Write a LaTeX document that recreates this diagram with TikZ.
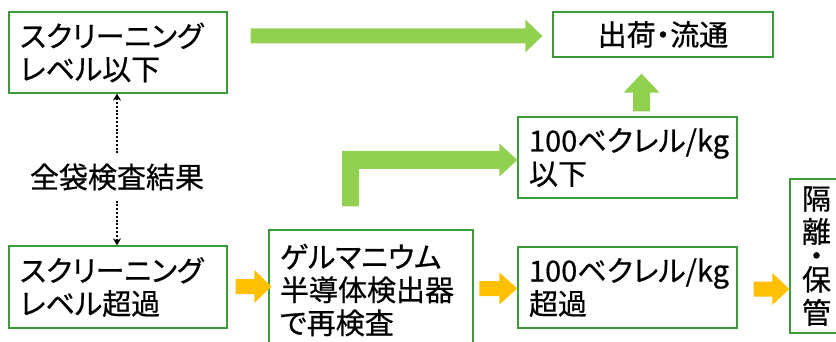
\documentclass[tikz,border=0pt]{standalone}
\usepackage{fontspec}
\setmainfont{Noto Sans CJK JP}[RawFeature=+palt, FakeBold=0.6]
\usetikzlibrary{calc,arrows.meta}
\definecolor{boxgreen}{RGB}{58,155,58}
\definecolor{argreen}{RGB}{146,208,80}
\definecolor{arorange}{RGB}{255,192,0}
\newcommand\jpfont{\fontsize{29pt}{33pt}\selectfont}
\begin{document}
\begin{tikzpicture}[x=1pt,y=-1pt,
  box/.style={draw=boxgreen, line width=1.3pt, fill=white, inner xsep=10pt, inner ysep=0pt, align=left, font=\jpfont, text=black},
  dotarrow/.style={line width=2pt, dash pattern=on 2pt off 1.8pt, -{Stealth[length=7pt,width=8pt]}, black}
]
\useasboundingbox (0,0) rectangle (836,342);
\clip (0,0) rectangle (836,342);
\fill[white] (0,0) rectangle (836,342);

\node[box, minimum width=218pt, minimum height=81pt, text width=196pt] (A) at (118,52.5) {スクリーニング\\レベル以下};
\node[box, minimum width=218pt, minimum height=82pt, text width=196pt] (B) at (118,287) {スクリーニング\\レベル超過};
\node[box, minimum width=204pt, minimum height=120pt, text width=182pt] (C) at (371,290) {ゲルマニウム\\半導体検出器\\で再検査};
\node[box, minimum width=219pt, minimum height=81pt, text width=197pt] (D) at (627.5,157.5) {100ベクレル/kg\\以下};
\node[box, minimum width=219pt, minimum height=81pt, text width=197pt] (E) at (627.5,287.5) {100ベクレル/kg\\超過};
\node[box, minimum width=220pt, minimum height=45pt, align=center] (F) at (663,34.5) {出荷・流通};
\node[box, minimum width=53pt, minimum height=154pt, inner xsep=0pt, align=center] (G) at (816.5,256) {隔\\離\\[-9pt]・\\[-9pt]保\\管};

\node[font=\jpfont, inner xsep=0pt, inner ysep=10pt, text=black] (L) at (117,177) {全袋検査結果};
\draw[dotarrow] (L.north) -- (L.north|-A.south);
\draw[dotarrow] (L.south) -- (L.south|-B.north);

\coordinate (g1) at ($(A.east|-F.west)+(23,1.5)$);
\coordinate (g2) at ($(F.west)+(-10,1.5)$);
\coordinate (u1) at ($(D.north)+(14,-5)$);
\coordinate (u2) at ($(u1|-F.south)+(0,16)$);
\coordinate (e1) at ($(C.north)+(-20.5,-23)$);
\coordinate (e2) at ($(D.west)+(0,2.5)$);
\coordinate (o1) at ($(B.east)+(8,-0.5)$);
\coordinate (o2) at ($(o1-|C.west)+(3,0)$);
\coordinate (o3) at ($(E.west)+(-38,1)$);
\coordinate (o4) at ($(E.west)+(0,1)$);
\coordinate (o5) at ($(E.east)+(16,1.5)$);
\coordinate (o6) at (o5-|G.west);

% green right arrow A -> F
\fill[argreen] let \p1=(g1), \p2=(g2) in
  (\x1,\y2+7.5pt) -- (\x2-17pt,\y2+7.5pt) -- (\x2-17pt,\y2+16.5pt) -- (\x2,\y2)
  -- (\x2-17pt,\y2-16.5pt) -- (\x2-17pt,\y2-7.5pt) -- (\x1,\y2-7.5pt) -- cycle;
% green up arrow D -> F
\fill[argreen] let \p1=(u1), \p2=(u2) in
  (\x2-8.5pt,\y1) -- (\x2-8.5pt,\y2-19pt) -- (\x2-18pt,\y2-19pt) -- (\x2,\y2)
  -- (\x2+18pt,\y2-19pt) -- (\x2+8.5pt,\y2-19pt) -- (\x2+8.5pt,\y1) -- cycle;
% green elbow arrow C -> D
\fill[argreen] let \p1=(e1), \p2=(e2) in
  (\x1-8.5pt,\y1) -- (\x1-8.5pt,\y2+9pt) -- (\x2-18pt,\y2+9pt) -- (\x2-18pt,\y2+16.5pt)
  -- (\x2,\y2) -- (\x2-18pt,\y2-16.5pt) -- (\x2-18pt,\y2-9pt) -- (\x1+8.5pt,\y2-9pt)
  -- (\x1+8.5pt,\y1) -- cycle;
% orange arrows
\fill[arorange] let \p1=(o1), \p2=(o2) in
  (\x1,\y2+7.5pt) -- (\x2-17pt,\y2+7.5pt) -- (\x2-17pt,\y2+16.5pt) -- (\x2,\y2)
  -- (\x2-17pt,\y2-16.5pt) -- (\x2-17pt,\y2-7.5pt) -- (\x1,\y2-7.5pt) -- cycle;
\fill[arorange] let \p1=(o3), \p2=(o4) in
  (\x1,\y2+7.5pt) -- (\x2-18pt,\y2+7.5pt) -- (\x2-18pt,\y2+16pt) -- (\x2,\y2)
  -- (\x2-18pt,\y2-16pt) -- (\x2-18pt,\y2-7.5pt) -- (\x1,\y2-7.5pt) -- cycle;
\fill[arorange] let \p1=(o5), \p2=(o6) in
  (\x1,\y2+7.5pt) -- (\x2-17pt,\y2+7.5pt) -- (\x2-17pt,\y2+16pt) -- (\x2,\y2)
  -- (\x2-17pt,\y2-16pt) -- (\x2-17pt,\y2-7.5pt) -- (\x1,\y2-7.5pt) -- cycle;
\end{tikzpicture}
\end{document}
